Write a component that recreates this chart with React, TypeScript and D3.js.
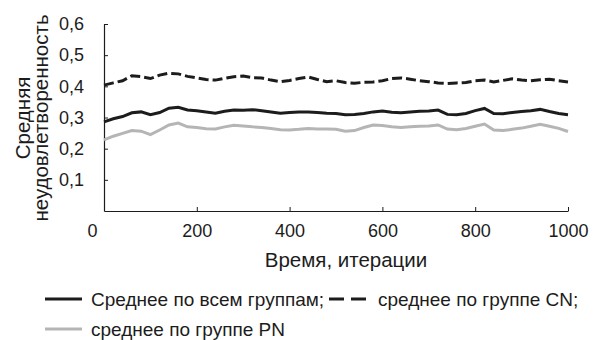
import React, { useEffect, useRef } from "react";
import * as d3 from "d3";

// iterations sampled every 20 steps
const iterations: number[] = d3.range(0, 1001, 20);

// среднее по группе CN (dashed)
const cnValues: number[] = [
  0.404, 0.411, 0.418, 0.434, 0.431, 0.425, 0.436, 0.442, 0.44, 0.432,
  0.427, 0.422, 0.42, 0.426, 0.431, 0.433, 0.428, 0.427, 0.42, 0.415,
  0.419, 0.425, 0.43, 0.422, 0.415, 0.418, 0.412, 0.41, 0.413, 0.414,
  0.418, 0.425, 0.427, 0.423, 0.418, 0.415, 0.411, 0.409, 0.411, 0.412,
  0.418, 0.42, 0.414, 0.419, 0.424, 0.42, 0.418, 0.421, 0.423, 0.418,
  0.414,
];

// Среднее по всем группам (solid black)
const allValues: number[] = [
  0.286, 0.296, 0.303, 0.315, 0.318, 0.309, 0.316, 0.33, 0.333, 0.324,
  0.322, 0.318, 0.314, 0.32, 0.324, 0.323, 0.325, 0.322, 0.318, 0.314,
  0.316, 0.318, 0.318, 0.316, 0.314, 0.313, 0.309, 0.31, 0.313, 0.318,
  0.321, 0.317, 0.315, 0.318, 0.32, 0.321, 0.324, 0.31, 0.309, 0.313,
  0.322, 0.329, 0.313, 0.312, 0.316, 0.319, 0.322, 0.326, 0.319, 0.313,
  0.309,
];

// среднее по группе PN (grey)
const pnValues: number[] = [
  0.228, 0.24, 0.249, 0.258, 0.256, 0.245, 0.26, 0.276, 0.282, 0.27,
  0.268, 0.264, 0.263, 0.27, 0.275, 0.273, 0.27, 0.268, 0.265, 0.261,
  0.26, 0.262, 0.265, 0.263, 0.263, 0.262, 0.256, 0.258, 0.268, 0.276,
  0.274, 0.27, 0.268, 0.27, 0.272, 0.273, 0.276, 0.263, 0.261, 0.265,
  0.272, 0.279, 0.26, 0.258, 0.262, 0.266, 0.272, 0.278, 0.272, 0.265,
  0.255,
];

const xTicks: number[] = [0, 200, 400, 600, 800, 1000];
const yTicks: number[] = [0.1, 0.2, 0.3, 0.4, 0.5, 0.6];
const legendLabels: string[] = [
  "Среднее по всем группам;",
  "среднее по группе CN;",
  "среднее по группе PN",
];

const FONT = "'Liberation Sans', Arial, sans-serif";
const BLACK = "#1c1c1c";
const GREY = "#b5b5b5";

const App = () => {
  const ref = useRef<SVGSVGElement>(null);

  useEffect(() => {
    const width = 598;
    const height = 340;
    const margin = { top: 24, right: 30, bottom: 129, left: 104 };

    const svg = d3.select(ref.current).attr("width", width).attr("height", height);
    svg.selectAll("*").remove();

    const x = d3.scaleLinear().domain([0, 1000]).range([margin.left, width - margin.right]);
    const y = d3.scaleLinear().domain([0, 0.6]).range([height - margin.bottom, margin.top]);

    // x axis
    const gx = svg
      .append("g")
      .attr("transform", `translate(0, ${y(0)})`)
      .call(
        d3
          .axisBottom(x)
          .tickValues(xTicks)
          .tickSizeInner(-4)
          .tickSizeOuter(0)
          .tickPadding(13)
          .tickFormat(d3.format("d"))
      );
    gx.select(".domain").attr("stroke", BLACK).attr("stroke-width", 1.2);
    gx.selectAll(".tick line").attr("stroke", BLACK);
    gx.selectAll(".tick text")
      .attr("font-family", FONT)
      .attr("font-size", 18)
      .attr("fill", BLACK)
      .attr("dx", (d: any) => (d === 0 ? -12 : 0));
    gx.selectAll(".tick").filter((d: any) => d === 0).select("line").remove();

    // y axis
    const gy = svg
      .append("g")
      .attr("transform", `translate(${margin.left}, 0)`)
      .call(
        d3
          .axisLeft(y)
          .tickValues(yTicks)
          .tickSizeInner(-4)
          .tickSizeOuter(0)
          .tickPadding(20)
          .tickFormat((d: any) => d3.format(".1f")(d).replace(".", ","))
      );
    gy.select(".domain").attr("stroke", BLACK).attr("stroke-width", 1.2);
    gy.selectAll(".tick line").attr("stroke", BLACK);
    gy.selectAll(".tick text").attr("font-family", FONT).attr("font-size", 18).attr("fill", BLACK);

    // axis titles
    svg
      .append("text")
      .attr("x", 346)
      .attr("y", 267)
      .attr("text-anchor", "middle")
      .attr("font-family", FONT)
      .attr("font-size", 20.5)
      .attr("fill", BLACK)
      .text("Время, итерации");

    const yTitle = svg
      .append("text")
      .attr("transform", "translate(0, 118) rotate(-90)")
      .attr("text-anchor", "middle")
      .attr("font-family", FONT)
      .attr("font-size", 20.5)
      .attr("fill", BLACK);
    yTitle.append("tspan").attr("x", 0).attr("y", 30).text("Средняя");
    yTitle.append("tspan").attr("x", 0).attr("y", 48).text("неудовлетворенность");

    // lines
    const line = (vals: number[]) =>
      d3
        .line<number>()
        .x((_, i) => x(iterations[i]))
        .y((d) => y(d))(vals);

    svg.append("path").attr("d", line(pnValues)).attr("fill", "none").attr("stroke", GREY).attr("stroke-width", 3);
    svg.append("path").attr("d", line(allValues)).attr("fill", "none").attr("stroke", BLACK).attr("stroke-width", 3);
    svg
      .append("path")
      .attr("d", line(cnValues))
      .attr("fill", "none")
      .attr("stroke", BLACK)
      .attr("stroke-width", 3)
      .attr("stroke-dasharray", "10 4");

    // legend
    const legend = [
      { x: 45, y: 299, stroke: BLACK, dash: null, label: legendLabels[0] },
      { x: 329, y: 299, stroke: BLACK, dash: "15 7", label: legendLabels[1] },
      { x: 45, y: 329, stroke: GREY, dash: null, label: legendLabels[2] },
    ];
    legend.forEach((l) => {
      const w = l.dash ? 38 : 37;
      svg
        .append("line")
        .attr("x1", l.x)
        .attr("x2", l.x + w)
        .attr("y1", l.y)
        .attr("y2", l.y)
        .attr("stroke", l.stroke)
        .attr("stroke-width", 3)
        .attr("stroke-dasharray", l.dash);
      svg
        .append("text")
        .attr("x", l.x + w + (l.dash ? 11 : 9))
        .attr("y", l.y)
        .attr("dy", "0.35em")
        .attr("font-family", FONT)
        .attr("font-size", 19)
        .attr("fill", BLACK)
        .text(l.label);
    });
  }, []);

  return (
    <div>
      <svg ref={ref} style={{ position: "absolute", left: 0, top: 0 }} />
    </div>
  );
};

export default App;
